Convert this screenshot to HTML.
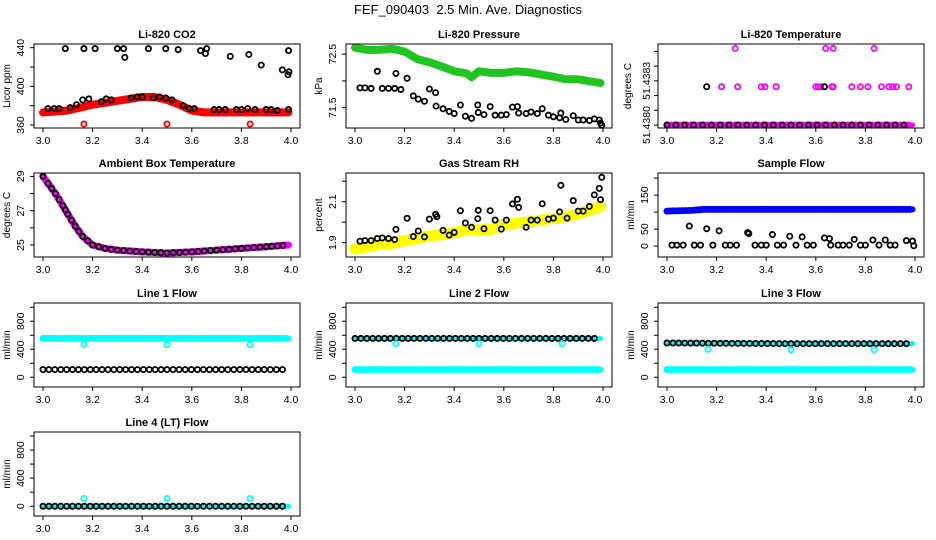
<!DOCTYPE html>
<html><head><meta charset="utf-8"><style>
html,body{margin:0;padding:0;background:#fff}
svg{display:block;font-family:"Liberation Sans",sans-serif}
</style></head><body>
<svg id="c" width="936" height="540" viewBox="0 0 936 540" xmlns="http://www.w3.org/2000/svg">
<rect width="936" height="540" fill="#fff"/>
<text x="468" y="14" text-anchor="middle" font-size="13" style="white-space:pre">FEF_090403&#160; 2.5 Min. Ave. Diagnostics</text>
</svg>
<script>
// ---- data ----
const co2RedX=[3.0,3.05,3.1,3.15,3.2,3.25,3.3,3.35,3.4,3.45,3.5,3.55,3.6,3.65,3.7,3.75,3.8,3.85,3.9,3.95,3.99];
const co2RedY=[373,374,375,378,381,383,385,387,389,389,386,381,375,373,373,373,373,373,373,373,373];
const co2RedOutX=[3.165,3.5,3.835];
const co2RedOutY=[361,361,361];
const co2BlkX=[3.02,3.045,3.065,3.11,3.135,3.16,3.185,3.235,3.255,3.275,3.355,3.38,3.40,3.445,3.47,3.495,3.52,3.565,3.59,3.61,3.69,3.71,3.735,3.78,3.80,3.825,3.855,3.90,3.92,3.945,3.99,3.09,3.165,3.21,3.30,3.325,3.33,3.425,3.495,3.545,3.635,3.655,3.66,3.755,3.83,3.88,3.965,3.988,3.992,3.99];
const co2BlkY=[377,377,377,378,381,386,387,384,387,386,388,389,389,388,389,388,386,380,377,377,376,376,376,376,376,377,376,376,376,375,376,439,439,439,439,439,430,439,439,438,437,434,439,431,433,422,417,412,415,437];

const presGrnX=[3.0,3.05,3.1,3.15,3.2,3.25,3.3,3.35,3.4,3.45,3.47,3.5,3.55,3.6,3.65,3.7,3.75,3.8,3.85,3.9,3.95,3.99];
const presGrnY=[72.62,72.58,72.58,72.6,72.55,72.41,72.35,72.27,72.18,72.14,72.07,72.18,72.15,72.15,72.18,72.16,72.12,72.08,72.03,72.03,71.99,71.96];
const presBlkX=[3.02,3.04,3.065,3.09,3.11,3.135,3.16,3.165,3.21,3.185,3.235,3.255,3.28,3.30,3.325,3.327,3.355,3.38,3.40,3.425,3.445,3.47,3.495,3.497,3.52,3.545,3.565,3.59,3.61,3.635,3.655,3.66,3.69,3.71,3.735,3.755,3.78,3.80,3.83,3.825,3.85,3.88,3.9,3.92,3.945,3.965,3.985,3.99,3.995];
const presBlkY=[71.87,71.87,71.86,72.18,71.86,71.86,71.86,72.14,72.05,71.84,71.72,71.66,71.62,71.85,71.78,71.53,71.48,71.43,71.39,71.55,71.34,71.30,71.55,71.41,71.37,71.52,71.36,71.36,71.37,71.51,71.52,71.40,71.39,71.42,71.39,71.48,71.36,71.33,71.40,71.31,71.28,71.35,71.27,71.27,71.26,71.29,71.27,71.21,71.17];

const tempBaseX=[3.0,3.5,3.99];
const tempBaseY=[51.4380,51.4380,51.4380];
const tempMagX=[3.22,3.285,3.38,3.395,3.44,3.60,3.61,3.62,3.665,3.67,3.745,3.78,3.81,3.865,3.895,3.91,3.925,3.975,3.275,3.64,3.67,3.835];
const tempMagY=[51.43826,51.43826,51.43826,51.43826,51.43826,51.43826,51.43826,51.43826,51.43826,51.43826,51.43826,51.43826,51.43826,51.43826,51.43826,51.43826,51.43826,51.43826,51.43852,51.43852,51.43852,51.43852];
const tempBlkX=[3.16,3.635];
const tempBlkY=[51.43826,51.43826];

const ambX=[3.0,3.02,3.05,3.08,3.1,3.13,3.16,3.2,3.25,3.3,3.4,3.5,3.6,3.7,3.8,3.9,3.99];
const ambY=[29.0,28.6,28.0,27.3,26.8,26.1,25.5,25.0,24.8,24.7,24.6,24.53,24.6,24.7,24.8,24.9,25.0];

const rhYelX=[3.0,3.05,3.1,3.15,3.2,3.25,3.3,3.35,3.4,3.45,3.5,3.55,3.6,3.65,3.7,3.75,3.8,3.85,3.9,3.95,3.99];
const rhYelY=[1.868,1.88,1.892,1.895,1.91,1.92,1.933,1.938,1.949,1.962,1.962,1.965,1.986,1.995,2.002,2.01,2.019,2.027,2.04,2.06,2.076];
const rhBlkX=[3.02,3.04,3.065,3.09,3.11,3.135,3.16,3.165,3.21,3.235,3.255,3.28,3.30,3.325,3.33,3.355,3.38,3.40,3.425,3.445,3.47,3.495,3.497,3.52,3.545,3.565,3.59,3.61,3.635,3.655,3.66,3.69,3.71,3.735,3.755,3.78,3.80,3.825,3.83,3.855,3.88,3.90,3.92,3.945,3.965,3.985,3.99,3.995];
const rhBlkY=[1.907,1.91,1.91,1.92,1.923,1.92,1.915,1.965,2.019,1.93,1.957,1.928,2.015,2.038,2.027,1.96,1.937,1.95,2.056,1.996,1.975,2.017,2.058,1.968,2.056,2.01,1.966,2.01,2.089,2.112,2.072,1.975,2.01,2.01,2.09,2.015,2.02,2.05,2.18,2.02,2.105,2.054,2.054,2.077,2.133,2.165,2.11,2.219];

const sfBlueX=[3.0,3.1,3.15,3.5,3.99];
const sfBlueY=[103,105,108,108,108];
const sfBlkX=[3.09,3.16,3.21,3.325,3.33,3.425,3.495,3.545,3.635,3.655,3.755,3.83,3.88,3.965,3.99,3.995,3.02,3.04,3.065,3.11,3.135,3.185,3.235,3.255,3.28,3.355,3.38,3.40,3.445,3.47,3.52,3.565,3.59,3.66,3.69,3.71,3.735,3.78,3.80,3.855,3.90,3.92];
const sfBlkY=[59,51,45,40,37,34,29,27,24,22,20,18,18,16,15,1,3,3,3,3,3,3,3,3,3,3,3,3,3,3,3,3,3,3,3,3,3,3,3,3,3,3];

const flowX=[3.0,3.5,3.99];
const flowOutX=[3.165,3.5,3.835];
const l1Cyan=[555,555,555];
const l1Blk=[110,110,110];
const l1Out=[470,465,465];
const l2Cyan=[110,110,110];
const l2Blk=[555,555,555];
const l2Out=[480,480,480];
const l3Cyan=[110,110,110];
const l3Blk=[490,480,480];
const l3Out=[400,395,395];
const l4Cyan=[0,0,0];
const l4Blk=[0,0,0];
const l4Out=[110,110,110];

// ---- drawing ----
const NS="http://www.w3.org/2000/svg";
const svg=document.getElementById('c');
function el(tag,attrs,parent){const e=document.createElementNS(NS,tag);for(const k in attrs)e.setAttribute(k,attrs[k]);(parent||svg).appendChild(e);return e;}
const colL=[34,346,658], rowT=[44,173,303,432], W=266, H=84;
function panel(c,r,o){
  const L=colL[c],T=rowT[r];
  const g=el('g',{});
  
  
  const sx=v=>L+9+(v-3.0)*248;
  const sy=v=>T+H-(v-o.ymin)/(o.ymax-o.ymin)*H;
  const t=el('text',{x:L+W/2,y:T-6,'text-anchor':'middle','font-size':11,'font-weight':'bold'},g);
  t.textContent=o.title;
  
  
  o.series.forEach(s=>{
    const sg=el('g',{fill:'none',stroke:s.color,'stroke-width':1.8},g);
    
    
    if(s.band){
      const pts=s.x.map((v,i)=>[sx(v),sy(s.y[i])]);
      const pl=el('polyline',{points:pts.map(p=>p.join(',')).join(' '),'stroke-width':s.band,'stroke-linejoin':'round','stroke-linecap':'round'},sg);
      
      
    }
    if(s.chain){
      const pts=s.x.map((v,i)=>[sx(v),sy(s.y[i])]);
      for(let i=0;i<pts.length-1;i++){
        const [x0,y0]=pts[i],[x1,y1]=pts[i+1];
        const d=Math.hypot(x1-x0,y1-y0);const n=Math.max(1,Math.round(d/s.chain));
        for(let k=0;k<n;k++){const f=k/n;
          const ci=el('circle',{cx:x0+(x1-x0)*f,cy:y0+(y1-y0)*f,r:2.6},sg);
          
          }
      }
    }
    if(s.pts){
      s.x.forEach((v,i)=>{
        const ci=el('circle',{cx:sx(v),cy:sy(s.y[i]),r:2.6},sg);
        
        
      });
    }
  });
  const b=el('rect',{x:L,y:T,width:W,height:H,fill:'none',stroke:'#000','stroke-width':1},g);
  
  
  [3.0,3.2,3.4,3.6,3.8,4.0].forEach(v=>{
    el('line',{x1:sx(v),x2:sx(v),y1:T+H,y2:T+H+4,stroke:'#000'},g);
    const tx=el('text',{x:sx(v),y:T+H+16,'text-anchor':'middle','font-size':10.5},g);
    tx.textContent=v.toFixed(1);
    
    
  });
  o.ticks.forEach((v,i)=>{
    el('line',{x1:L-4,x2:L,y1:sy(v),y2:sy(v),stroke:'#000'},g);
    if(o.labels[i]){
      const lx=L-(o.lblOff||10);
      const ty=el('text',{x:lx,y:sy(v),'text-anchor':'middle','font-size':10.5,transform:`rotate(-90 ${lx} ${sy(v)})`},g);
      ty.textContent=o.labels[i];
      
      
    }
  });
  const yx=L-(o.ylabOff||24), yy=T+H/2;
  const yl=el('text',{x:yx,y:yy,'text-anchor':'middle','font-size':10,transform:`rotate(-90 ${yx} ${yy})`},g);
  yl.textContent=o.ylab;
  
  
}
const B='#000',RED='#ff0000',GRN='#22c422',MAG='#ff00ff',YEL='#ffff00',BLU='#0000ff',CY='#00ffff';
panel(0,0,{name:'co2-panel',title:'Li-820 CO2',ylab:'Licor ppm',ymin:356.9,ymax:443.8,ticks:[360,380,400,420,440],labels:['360','','400','','440'],series:[
  {name:'co2-red-band',x:co2RedX,y:co2RedY,color:RED,band:8,chain:3},
  {name:'co2-red-outliers',x:co2RedOutX,y:co2RedOutY,color:RED,pts:1},
  {name:'co2-black',x:co2BlkX,y:co2BlkY,color:B,pts:1}]});
panel(1,0,{name:'pressure-panel',title:'Li-820 Pressure',ylab:'kPa',ymin:71.12,ymax:72.69,ticks:[71.5,72.0,72.5],labels:['71.5','','72.5'],series:[
  {name:'pressure-green',x:presGrnX,y:presGrnY,color:GRN,band:8,chain:3},
  {name:'pressure-black',x:presBlkX,y:presBlkY,color:B,pts:1}]});
panel(2,0,{name:'li820-temp-panel',title:'Li-820 Temperature',ylab:'degrees C',ymin:51.43798,ymax:51.43855,ticks:[51.4380,51.4381,51.4382,51.4383,51.4384,51.4385],labels:['51.4380','','','51.4383','',''],lblOff:8,ylabOff:27,series:[
  {name:'temp-magenta-base',x:tempBaseX,y:tempBaseY,color:MAG,band:5,chain:4},
  {name:'temp-black-base',x:tempBaseX,y:tempBaseY,color:B,chain:9},
  {name:'temp-magenta',x:tempMagX,y:tempMagY,color:MAG,pts:1},
  {name:'temp-black',x:tempBlkX,y:tempBlkY,color:B,pts:1}]});
panel(0,1,{name:'ambient-temp-panel',title:'Ambient Box Temperature',ylab:'degrees C',ymin:24.3,ymax:29.2,ticks:[25,26,27,28,29],labels:['25','','27','','29'],series:[
  {name:'ambient-magenta',x:ambX,y:ambY,color:MAG,band:7,chain:3},
  {name:'ambient-black',x:ambX,y:ambY,color:B,chain:6}]});
panel(1,1,{name:'rh-panel',title:'Gas Stream RH',ylab:'percent',ymin:1.83,ymax:2.24,ticks:[1.9,2.0,2.1,2.2],labels:['1.9','','2.1',''],series:[
  {name:'rh-yellow',x:rhYelX,y:rhYelY,color:YEL,band:11,chain:3},
  {name:'rh-black',x:rhBlkX,y:rhBlkY,color:B,pts:1}]});
panel(2,1,{name:'sample-flow-panel',title:'Sample Flow',ylab:'ml/min',ymin:-32,ymax:215,ticks:[0,50,100,150,200],labels:['0','50','','150',''],series:[
  {name:'sample-blue',x:sfBlueX,y:sfBlueY,color:BLU,band:6,chain:3},
  {name:'sample-black',x:sfBlkX,y:sfBlkY,color:B,pts:1}]});
const ft=[0,200,400,600,800,1000], fl=['0','','400','','800',''];
panel(0,2,{name:'line1-flow-panel',title:'Line 1 Flow',ylab:'ml/min',ymin:-139,ymax:1061,ticks:ft,labels:fl,series:[
  {name:'line1-cyan',x:flowX,y:l1Cyan,color:CY,band:6,chain:3},
  {name:'line1-black',x:flowX,y:l1Blk,color:B,chain:6},
  {name:'line1-outliers',x:flowOutX,y:l1Out,color:CY,pts:1}]});
panel(1,2,{name:'line2-flow-panel',title:'Line 2 Flow',ylab:'ml/min',ymin:-139,ymax:1061,ticks:ft,labels:fl,series:[
  {name:'line2-cyan',x:flowX,y:l2Cyan,color:CY,band:6,chain:3},
  {name:'line2-cyan-top',x:flowX,y:l2Blk,color:CY,band:5},
  {name:'line2-black',x:flowX,y:l2Blk,color:B,chain:6},
  {name:'line2-outliers',x:flowOutX,y:l2Out,color:CY,pts:1}]});
panel(2,2,{name:'line3-flow-panel',title:'Line 3 Flow',ylab:'ml/min',ymin:-139,ymax:1061,ticks:ft,labels:fl,series:[
  {name:'line3-cyan',x:flowX,y:l3Cyan,color:CY,band:6,chain:3},
  {name:'line3-cyan-top',x:flowX,y:l3Blk,color:CY,band:5},
  {name:'line3-black',x:flowX,y:l3Blk,color:B,chain:6},
  {name:'line3-outliers',x:flowOutX,y:l3Out,color:CY,pts:1}]});
panel(0,3,{name:'line4-flow-panel',title:'Line 4 (LT) Flow',ylab:'ml/min',ymin:-139,ymax:1057,ticks:ft,labels:fl,series:[
  {name:'line4-cyan',x:flowX,y:l4Cyan,color:CY,band:5},
  {name:'line4-black',x:flowX,y:l4Blk,color:B,chain:6},
  {name:'line4-outliers',x:flowOutX,y:l4Out,color:CY,pts:1}]});
</script>
</body></html>
